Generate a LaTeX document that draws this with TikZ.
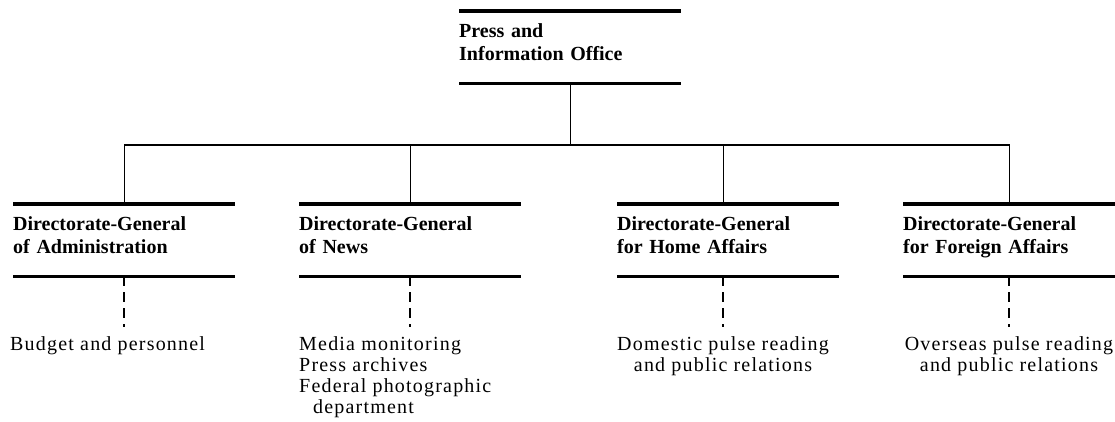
\documentclass[tikz,border=0pt]{standalone}
\usepackage{fontspec}
\setmainfont{Liberation Serif}
\newfontfamily\taskfont[LetterSpace=6]{Liberation Serif}

\tikzset{
  office/.style={anchor=north west, inner xsep=0pt, inner ysep=0pt,
    text width=#1, minimum height=72pt, align=left,
    font=\bfseries\fontsize{20}{23.5}\selectfont,
    execute at begin node={\rule{0pt}{13pt}},
    execute at end node={\rule[-10pt]{0pt}{10pt}}},
  office/.default=222pt,
  bar/.style={line width=3.5pt},
  link/.style={line width=1.2pt},
  dashlink/.style={line width=1.8pt, dash pattern=on 10pt off 6pt, shorten >=9pt},
  task/.style={inner sep=0pt, font=\taskfont\fontsize{20}{21}\selectfont}
}

\begin{document}
\begin{tikzpicture}[x=1pt,y=-1pt]
  \useasboundingbox (0,0) rectangle (1115,422);
  % offices
  \node[office] (pio) at (459,11) {Press and\\Information Office};
  \node[office] (adm) at (13,204) {Directorate-General\\of Administration};
  \node[office] (news) at (299,204) {Directorate-General\\of News};
  \node[office] (home) at (617,204) {Directorate-General\\for Home Affairs};
  \node[office=212pt] (abroad) at (903,204) {Directorate-General\\for Foreign Affairs};
  \foreach \n in {pio,adm,news,home,abroad}
    \draw[bar] (\n.north west) -- (\n.north east) (\n.south west) -- (\n.south east);

  % tasks
  \node[task,anchor=north west,align=left] (adm-task) at (10,336) {Budget and personnel};
  \node[task,anchor=north west,align=left] (news-task) at (299,336)
    {Media monitoring\\Press archives\\Federal photographic\\\hspace*{14pt}department};
  \node[task,anchor=north,align=center] (home-task) at (723,336)
    {Domestic pulse reading\\and public relations};
  \node[task,anchor=north,align=center] (abroad-task) at (1009,336)
    {Overseas pulse reading\\and public relations};

  % lines
  \coordinate (bus) at (0,145);
  \draw[link] (pio.south) -- (pio.south |- bus);
  \foreach \n/\dx in {adm/0,news/0,home/-5,abroad/0}{
    \draw[link] (pio.south |- bus) -| ([xshift=\dx pt]\n.north);
    \draw[dashlink] ([xshift=\dx pt]\n.south) -- ([xshift=\dx pt]\n.south |- \n-task.north);
  }
\end{tikzpicture}
\end{document}
